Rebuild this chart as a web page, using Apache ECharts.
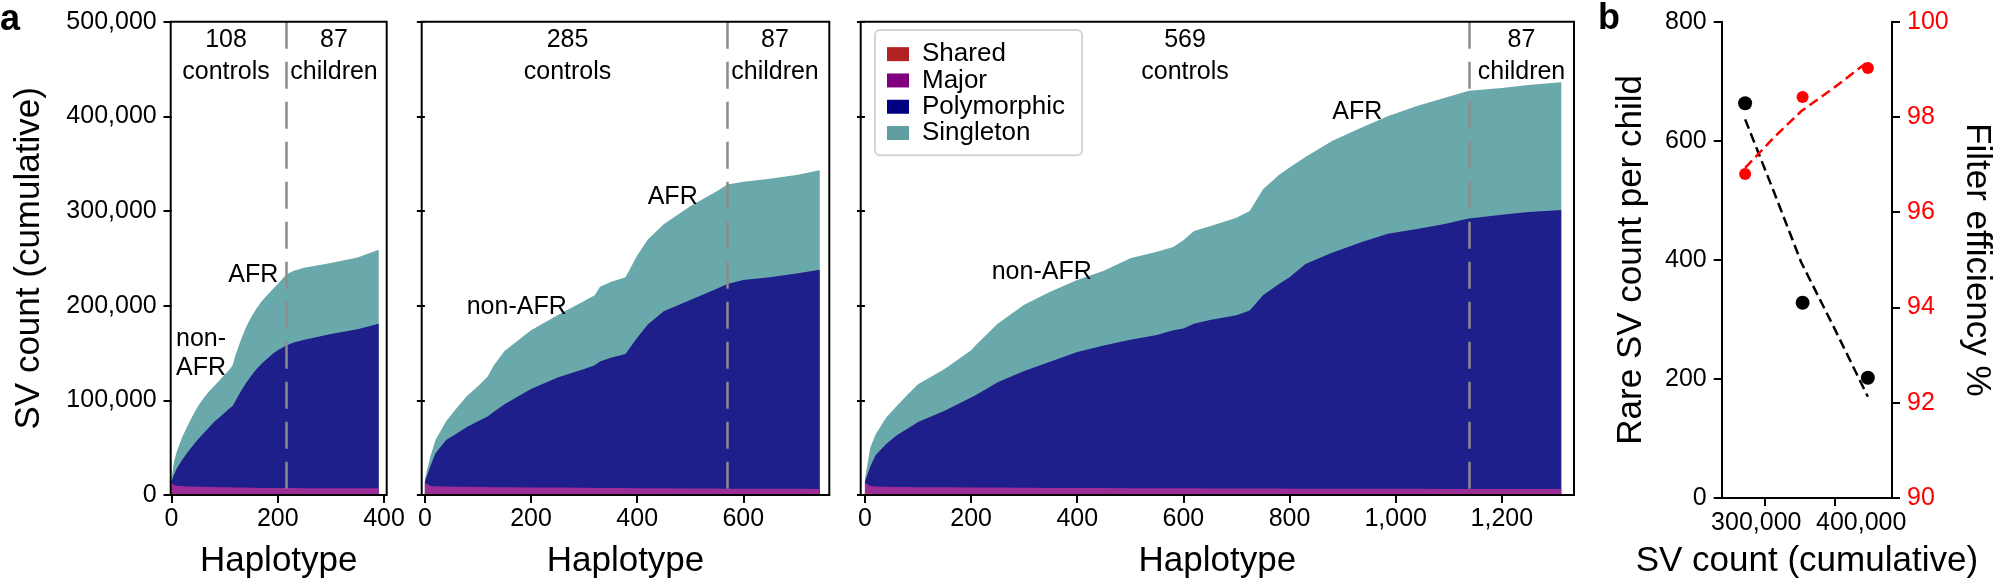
<!DOCTYPE html>
<html>
<head>
<meta charset="utf-8">
<script src="https://cdn.jsdelivr.net/npm/echarts@6/dist/echarts.min.js"></script>
<style>
html,body{margin:0;padding:0;background:#fff;}
#chart{width:1995px;height:584px;}
</style>
</head>
<body>
<div id="chart"></div>
<script>
// ---------------- DATA ----------------
// Panel a: per-category SV counts (thousands) at sampled haplotype indices
const seriesNames = ['Shared', 'Major', 'Polymorphic', 'Singleton'];
const controls = [108, 285, 569];
const children = [87, 87, 87];

const p1Hap = [0,5,10,20,30,40,50,60,70,80,90,100,110,115,120,130,140,150,160,170,180,190,200,216,230,250,300,350,390];
const p1Shared = [3.0,0.8,0.3,0.1,0,0,0,0,0,0,0,0,0,0,0,0,0,0,0,0,0,0,0,0,0,0,0,0,0];
const p1Major = [10.0,9.8,9.6,9.3,9.1,8.9,8.8,8.6,8.5,8.4,8.3,8.2,8.1,8.0,8.0,7.9,7.8,7.7,7.6,7.5,7.5,7.4,7.4,7.3,7.3,7.2,7.1,7.0,7.0];
const p1Poly = [1.0,11.4,18.1,27.6,35.9,43.1,50.2,56.4,62.5,68.6,73.7,78.8,83.9,86.0,91.0,101.1,110.2,118.3,125.4,131.5,136.5,141.6,145.6,150.7,153.7,156.8,162.9,168.0,174.0];
const p1Single = [3,14,18,24,28,32,35,37,38,38,39,40,41,43,48,54,59,62,64,66,67,68,70,75,76,76,75,76,78];

const p2Hap = [0,10,20,40,60,80,100,118,130,150,200,250,300,320,330,350,378,400,420,450,500,550,570,600,650,700,744];
const p2Shared = [3.0,0.3,0.1,0,0,0,0,0,0,0,0,0,0,0,0,0,0,0,0,0,0,0,0,0,0,0,0];
const p2Major = [10.0,9.5,9.2,8.9,8.7,8.6,8.5,8.4,8.3,8.2,8.0,7.8,7.6,7.5,7.5,7.4,7.3,7.2,7.1,7.0,6.9,6.8,6.7,6.7,6.6,6.5,6.4];
const p2Poly = [1.0,20.2,34.7,49.1,56.3,63.4,69.5,74.6,79.7,87.8,104.0,116.2,125.4,129.5,133.5,137.6,141.7,158.8,172.9,187.0,199.1,211.2,216.3,220.3,223.4,227.5,231.6];
const p2Single = [3,10,14,20,27,33,37,42,49,56,62,66,72,74,79,80,81,87,90,92,99,103,105,104,104,104,105];

const p3Hap = [0,10,20,40,60,80,100,150,200,210,250,300,350,400,450,500,550,581,600,620,650,700,725,750,780,800,830,880,935,985,1040,1090,1138,1200,1250,1312];
const p3Shared = [3.0,0.3,0.1,0,0,0,0,0,0,0,0,0,0,0,0,0,0,0,0,0,0,0,0,0,0,0,0,0,0,0,0,0,0,0,0,0];
const p3Major = [10.0,9.3,9.0,8.7,8.5,8.4,8.3,8.1,7.9,7.9,7.8,7.6,7.5,7.4,7.3,7.2,7.1,7.0,7.0,7.0,6.9,6.9,6.8,6.8,6.8,6.7,6.7,6.6,6.6,6.5,6.5,6.4,6.4,6.3,6.3,6.3];
const p3Poly = [1.0,20.4,32.9,45.3,54.5,61.6,68.7,80.9,95.1,98.1,111.2,123.4,133.5,143.6,150.7,156.8,161.9,167.0,169.0,174.0,178.1,183.1,188.2,204.2,216.2,223.3,237.3,249.4,260.4,269.5,274.5,279.6,285.6,289.7,292.7,294.7];
const p3Single = [3,20,22,28,31,36,40,44,50,53,62,70,74,76,79,86,88,88,93,98,99,103,105,112,115,116,113,118,121,124,130,133,135,134,134,135];

const p1Ticks = [0, 200, 400];
const p2Ticks = [0, 200, 400, 600];
const p3Ticks = [0, 200, 400, 600, 800, 1000, 1200];

// Panel b
const bTotalSV = [273000, 354000, 446000];
const bRareCount = [663, 328, 202];
const bFilterEff = [96.80, 98.42, 99.03];
const bFitX = [273000, 313000, 352000, 398000, 446000];
const bRareFit = [636, 516, 396, 287, 170];
const bEffFit = [96.93, 97.56, 98.12, 98.61, 99.16];
const bTicks = [300000, 400000];

// ---------------- STYLE ----------------
const FONT = 'Liberation Sans, Arial, Helvetica, sans-serif';
const legendColors = ['#b22222', '#800080', '#000080', '#5f9ea0'];
const fillColors = ['#c0392e', '#9c2d97', '#1f1f8c', '#6aa9ab'];

const panels = [
  {hap: p1Hap, vals: [p1Shared, p1Major, p1Poly, p1Single], ticks: p1Ticks, min: -1.5, max: 405,
   grid: {left: 170.7, width: 216}},
  {hap: p2Hap, vals: [p2Shared, p2Major, p2Poly, p2Single], ticks: p2Ticks, min: -6, max: 762,
   grid: {left: 421.7, width: 407.6}},
  {hap: p3Hap, vals: [p3Shared, p3Major, p3Poly, p3Single], ticks: p3Ticks, min: -8, max: 1336,
   grid: {left: 860.7, width: 713.3}}
];

const GTOP = 21.7, GH = 476.6;
const grids = [], xAxes = [], yAxes = [], series = [];
const axisLabelStyle = {fontSize: 25, color: '#000', fontFamily: FONT};
const nameStyle = {fontSize: 35, lineHeight: 35, color: '#000', fontFamily: FONT};
const tickStyle = {length: 8, lineStyle: {width: 2, color: '#000'}};

panels.forEach((p, gi) => {
  grids.push({left: p.grid.left, width: p.grid.width, top: GTOP, height: GH, show: true,
    borderColor: '#000', borderWidth: 2, backgroundColor: 'transparent', z: 10, containLabel: false});
  xAxes.push({type: 'value', gridIndex: gi, min: p.min, max: p.max,
    axisLine: {show: false}, splitLine: {show: false},
    axisTick: Object.assign({show: true, customValues: p.ticks}, tickStyle),
    axisLabel: Object.assign({customValues: p.ticks, margin: 12, lineHeight: 25, hideOverlap: false}, axisLabelStyle),
    name: 'Haplotype', nameLocation: 'middle', nameGap: 49, nameTextStyle: nameStyle});
  yAxes.push({type: 'value', gridIndex: gi, min: 0, max: 500000, interval: 100000,
    axisLine: {show: false}, splitLine: {show: false},
    axisTick: Object.assign({show: true}, tickStyle),
    axisLabel: Object.assign({show: gi === 0, margin: 14}, axisLabelStyle),
    name: gi === 0 ? 'SV count (cumulative)' : '', nameLocation: 'middle', nameGap: 124,
    nameTextStyle: nameStyle});

  // cumulative boundaries (stack built here: Shared at bottom, Singleton on top)
  const cum = [];
  let run = p.hap.map(() => 0);
  p.vals.forEach((arr) => { run = run.map((r, i) => r + arr[i]); cum.push(run); });
  const divider = controls[gi] * 2;
  // draw the top layer first so lower layers overlay it
  [3, 2, 1, 0].forEach((si) => {
    const s = {
      type: 'line', name: seriesNames[si], xAxisIndex: gi, yAxisIndex: gi,
      symbol: 'none', showSymbol: false, silent: true,
      lineStyle: {width: 0, opacity: 0},
      itemStyle: {color: fillColors[si]},
      areaStyle: {color: fillColors[si], opacity: 1},
      data: p.hap.map((h, i) => [h, cum[si][i] * 1000]),
      z: 2
    };
    if (si === 0) {
      s.markLine = {
        silent: true, symbol: ['none', 'none'], label: {show: false},
        lineStyle: {color: '#8c8c8c', width: 2.5, type: [27, 13]},
        emphasis: {disabled: true},
        data: [[{coord: [divider, 500000]}, {coord: [divider, 0]}]],
        z: 5
      };
    }
    series.push(s);
  });
});

// Panel b grid / axes
grids.push({left: 1721.7, width: 171.6, top: GTOP, height: 477.5, show: false, containLabel: false});
const bAxisLine = {show: true, onZero: false, lineStyle: {width: 2, color: '#000'}};
xAxes.push({type: 'value', gridIndex: 3, min: 240000, max: 480000,
  axisLine: bAxisLine, splitLine: {show: false},
  axisTick: Object.assign({show: true, customValues: bTicks}, tickStyle),
  axisLabel: {show: false},
  name: 'SV count (cumulative)', nameLocation: 'middle', nameGap: 46, nameTextStyle: nameStyle});
yAxes.push({type: 'value', gridIndex: 3, position: 'left', min: 0, max: 800, interval: 200,
  axisLine: bAxisLine, splitLine: {show: false},
  axisTick: Object.assign({show: true}, tickStyle),
  axisLabel: Object.assign({margin: 15}, axisLabelStyle),
  name: 'Rare SV count per child', nameLocation: 'middle', nameGap: 73, nameTextStyle: nameStyle});
yAxes.push({type: 'value', gridIndex: 3, position: 'right', min: 90, max: 100, interval: 2,
  axisLine: bAxisLine, splitLine: {show: false},
  axisTick: Object.assign({show: true}, tickStyle),
  axisLabel: Object.assign({}, axisLabelStyle, {margin: 15, color: '#ff0000'}),
  name: 'Filter efficiency %', nameLocation: 'middle', nameRotate: -90, nameGap: 67,
  nameTextStyle: nameStyle});

series.push({type: 'line', name: 'rareFit', xAxisIndex: 3, yAxisIndex: 3, silent: true,
  symbol: 'none', data: bFitX.map((x, i) => [x, bRareFit[i]]),
  lineStyle: {color: '#000', width: 2.5, type: [10, 5]}, z: 3});
series.push({type: 'line', name: 'effFit', xAxisIndex: 3, yAxisIndex: 4, silent: true,
  symbol: 'none', data: bFitX.map((x, i) => [x, bEffFit[i]]),
  lineStyle: {color: '#ff0000', width: 2.5, type: [10, 5]}, z: 3});
series.push({type: 'scatter', name: 'rare', xAxisIndex: 3, yAxisIndex: 3, silent: true,
  symbolSize: 14, itemStyle: {color: '#000', opacity: 1},
  data: bTotalSV.map((x, i) => [x, bRareCount[i]]), z: 4});
series.push({type: 'scatter', name: 'eff', xAxisIndex: 3, yAxisIndex: 4, silent: true,
  symbolSize: 12, itemStyle: {color: '#ff0000', opacity: 1},
  data: bTotalSV.map((x, i) => [x, bFilterEff[i]]), z: 4});

// annotations
function txt(x, y, text, opts) {
  return Object.assign({type: 'text', x: x, y: y, silent: true, z: 20,
    style: Object.assign({text: text, fill: '#000', font: '25px ' + FONT,
      textAlign: 'center', textVerticalAlign: 'middle', lineHeight: 31.7}, (opts || {}))});
}
const annoX = [[226, 334], [567.5, 775], [1185, 1521.5]];
const graphics = [];
controls.forEach((c, i) => {
  graphics.push(txt(annoX[i][0], 55.8, c + '\ncontrols'));
  graphics.push(txt(annoX[i][1], 55.8, children[i] + '\nchildren'));
});
graphics.push(txt(253.3, 275, 'AFR'));
graphics.push(txt(176, 353.8, 'non-\nAFR', {textAlign: 'left', lineHeight: 29}));
graphics.push(txt(516.7, 307.3, 'non-AFR'));
graphics.push(txt(672.7, 196.7, 'AFR'));
graphics.push(txt(1041.7, 271.7, 'non-AFR'));
graphics.push(txt(1357.3, 111.7, 'AFR'));
graphics.push(txt(10, 20, 'a', {font: 'bold 36px ' + FONT}));
graphics.push(txt(1609, 19, 'b', {font: 'bold 36px ' + FONT}));

const chart = echarts.init(document.getElementById('chart'), null, {renderer: 'canvas'});
const option = {
  animation: false,
  backgroundColor: '#fff',
  textStyle: {fontFamily: FONT},
  grid: grids,
  xAxis: xAxes,
  yAxis: yAxes,
  legend: {
    show: true, orient: 'vertical', left: 875, top: 30,
    padding: [11, 17, 9, 12], itemWidth: 22, itemHeight: 14, itemGap: 0,
    icon: 'rect', selectedMode: false,
    textStyle: {fontSize: 26, lineHeight: 26.3, color: '#000', fontFamily: FONT, padding: [0, 0, 0, 8]},
    backgroundColor: 'rgba(255,255,255,0.85)', borderColor: '#d4d4d4', borderWidth: 2, borderRadius: 5,
    data: seriesNames.map((n, i) => ({name: n, itemStyle: {color: legendColors[i], borderWidth: 0}}))
  },
  graphic: graphics,
  series: series
};
chart.setOption(option);

// Panel b x tick labels: placed at the axis' own tick positions, nudged apart as in the original
const bLabelShift = [-8, 26];
bTicks.forEach((v, i) => {
  const px = chart.convertToPixel({xAxisIndex: 3}, v);
  graphics.push(txt(px + bLabelShift[i], 523, echarts.format.addCommas(v)));
});
chart.setOption({graphic: graphics});
</script>
</body>
</html>
